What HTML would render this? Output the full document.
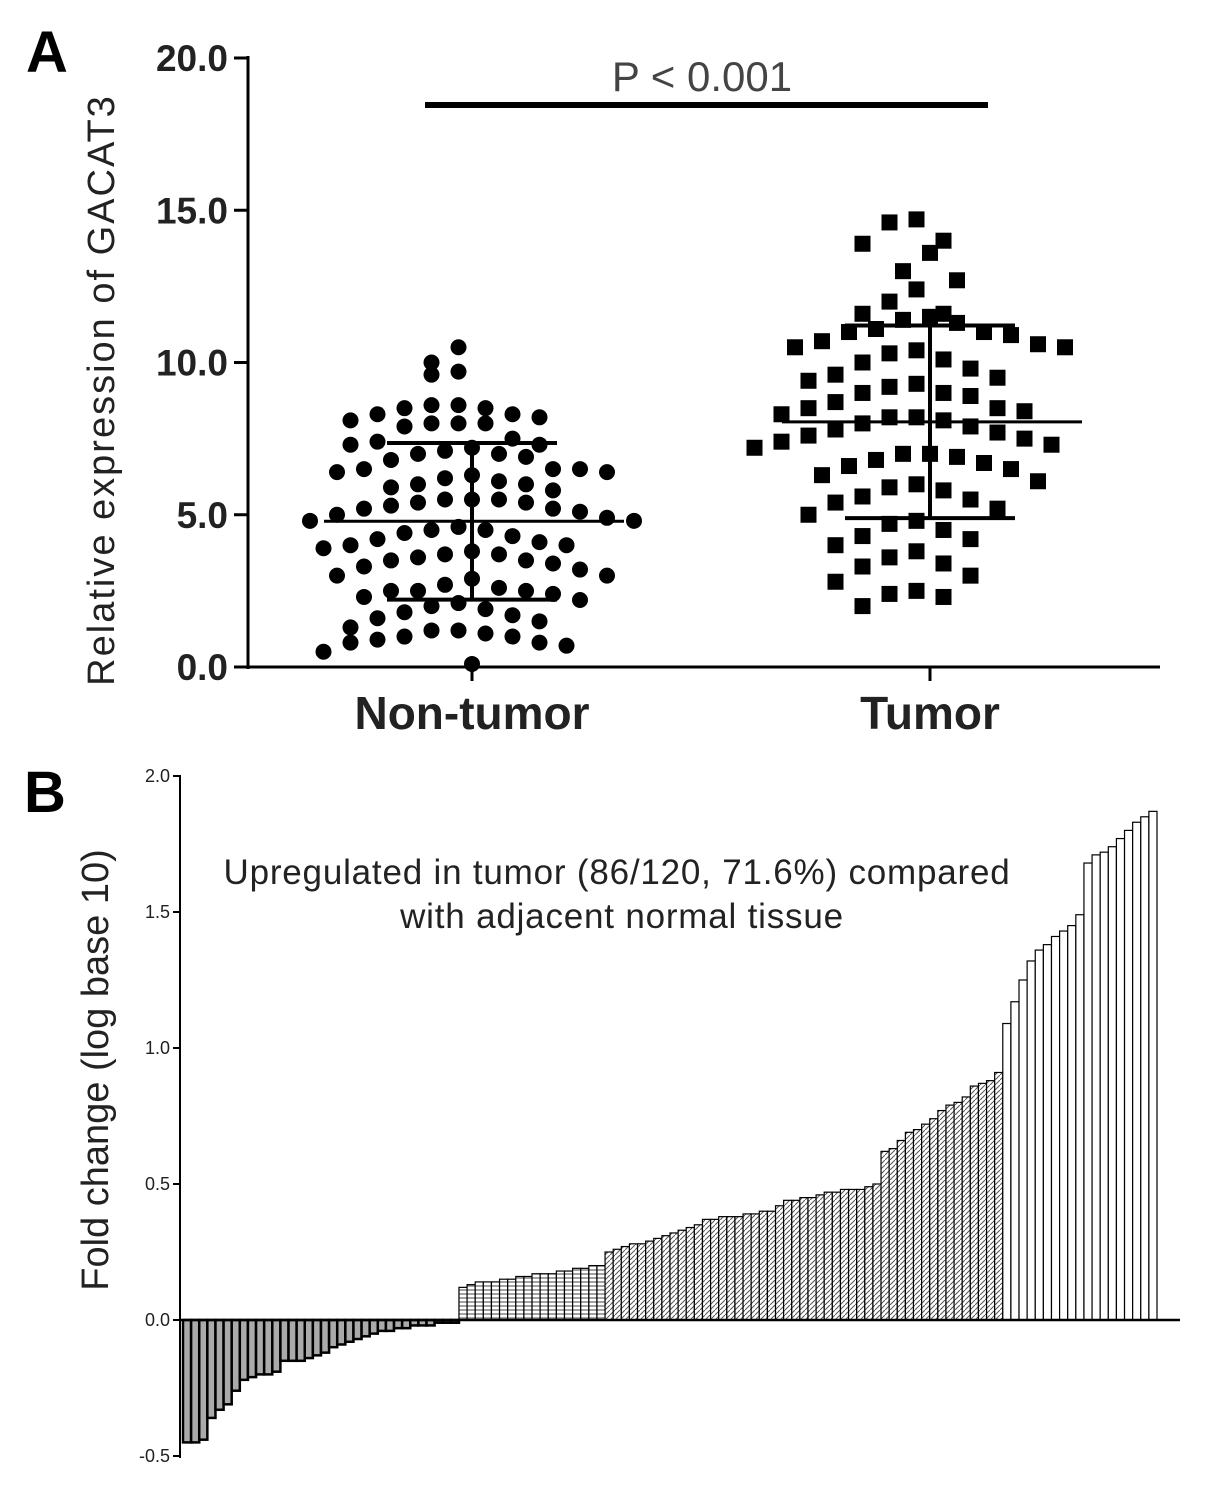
<!DOCTYPE html>
<html><head><meta charset="utf-8"><style>
html,body{margin:0;padding:0;background:#fff;}
svg{display:block;font-family:"Liberation Sans",Arial,sans-serif;}
</style></head><body>
<svg id="fig" width="1205" height="1493" viewBox="0 0 1205 1493">
<defs>
<pattern id="pNeg" width="8" height="8" patternUnits="userSpaceOnUse"><rect width="8" height="8" fill="#aaa"/></pattern>
<pattern id="pHoriz" width="4" height="4" patternUnits="userSpaceOnUse"><rect width="4" height="4" fill="#fff"/><line x1="0" y1="2" x2="4" y2="2" stroke="#444" stroke-width="1"/></pattern>
<pattern id="pDiag" width="5" height="5" patternUnits="userSpaceOnUse"><rect width="5" height="5" fill="#fff"/><line x1="0" y1="5" x2="5" y2="0" stroke="#555" stroke-width="1"/></pattern>
</defs>
<g id="panelA"></g>
<g id="panelB"></g>
</svg>
<script>
const nonTumorVals=[10.5,10.0,9.7,9.6,8.6,8.6,8.5,8.5,8.3,8.3,8.2,8.1,8.0,8.0,8.0,7.9,7.5,7.4,7.3,7.3,7.2,7.1,7.0,7.0,6.9,6.8,6.5,6.5,6.5,6.4,6.4,6.3,6.2,6.1,6.0,6.0,5.9,5.8,5.5,5.5,5.5,5.4,5.4,5.3,5.2,5.2,5.1,5.0,4.9,4.8,4.8,4.6,4.5,4.5,4.4,4.3,4.2,4.1,4.0,4.0,3.9,3.8,3.7,3.7,3.6,3.5,3.5,3.4,3.3,3.2,3.0,3.0,2.9,2.7,2.6,2.5,2.5,2.5,2.4,2.3,2.2,2.1,2.0,1.9,1.8,1.7,1.6,1.5,1.3,1.2,1.2,1.1,1.0,1.0,0.9,0.8,0.8,0.7,0.5,0.1];
const tumorVals=[14.7,14.6,14.0,13.9,13.6,13.0,12.7,12.4,12.0,11.6,11.6,11.5,11.4,11.3,11.1,11.0,11.0,10.9,10.7,10.6,10.5,10.5,10.4,10.3,10.1,10.0,9.8,9.6,9.5,9.4,9.3,9.2,9.0,9.0,8.9,8.7,8.5,8.5,8.4,8.3,8.2,8.2,8.1,8.0,7.9,7.8,7.7,7.6,7.5,7.4,7.3,7.2,7.0,7.0,6.9,6.8,6.7,6.6,6.5,6.3,6.1,6.0,5.9,5.8,5.6,5.5,5.4,5.2,5.0,4.8,4.7,4.5,4.3,4.2,4.0,3.8,3.6,3.4,3.3,3.0,2.8,2.5,2.4,2.3,2.0];
const aTicks=[0,5,10,15,20];
const aTickLabels=["0.0","5.0","10.0","15.0","20.0"];
const groups=["Non-tumor","Tumor"];

const negVals=[-0.45,-0.45,-0.44,-0.36,-0.33,-0.31,-0.26,-0.22,-0.21,-0.20,-0.20,-0.19,-0.15,-0.15,-0.15,-0.14,-0.13,-0.12,-0.10,-0.09,-0.08,-0.07,-0.06,-0.05,-0.04,-0.04,-0.03,-0.03,-0.02,-0.02,-0.02,-0.01,-0.01,-0.01];
const posVals=[0.12,0.13,0.14,0.14,0.14,0.15,0.15,0.16,0.16,0.17,0.17,0.17,0.18,0.18,0.19,0.19,0.20,0.20,
0.25,0.26,0.27,0.28,0.28,0.29,0.30,0.31,0.32,0.33,0.34,0.35,0.37,0.37,0.38,0.38,0.38,0.39,0.39,0.40,0.40,0.42,
0.44,0.44,0.45,0.45,0.46,0.47,0.47,0.48,0.48,0.48,0.49,0.50,
0.62,0.63,0.66,0.69,0.70,0.72,0.74,0.77,0.79,0.80,0.82,0.86,0.87,0.88,0.91,
1.09,1.17,1.25,1.32,1.36,1.38,1.41,1.43,1.45,1.49,
1.68,1.71,1.72,1.74,1.77,1.80,1.83,1.85,1.87];
const bTicks=[-0.5,0,0.5,1.0,1.5,2.0];
const bTickLabels=["-0.5","0.0","0.5","1.0","1.5","2.0"];

const NS="http://www.w3.org/2000/svg";
function mk(parent,tag,attrs,text){const e=document.createElementNS(NS,tag);for(const k in attrs)e.setAttribute(k,attrs[k]);if(text!==undefined)e.textContent=text;parent.appendChild(e);return e;}

// Panel A
const A=document.getElementById('panelA');
const yA=v=>667-v*30.45;
const xA=i=>[472,930][i];
mk(A,'line',{x1:248,y1:56,x2:248,y2:669,stroke:'#000','stroke-width':3});
mk(A,'line',{x1:246,y1:667,x2:1160,y2:667,stroke:'#000','stroke-width':3});
aTicks.forEach((t,i)=>{
  const tk=mk(A,'line',{x1:234,y1:yA(t),x2:248,y2:yA(t),stroke:'#000','stroke-width':3});
  
  const lb=mk(A,'text',{x:228,y:yA(t)+13,'text-anchor':'end','font-size':37,'font-weight':'bold',fill:'#222'},aTickLabels[i]);
  
});
groups.forEach((g,i)=>{
  mk(A,'line',{x1:xA(i),y1:667,x2:xA(i),y2:681,stroke:'#000','stroke-width':3});
  const lb=mk(A,'text',{x:xA(i),y:729,'text-anchor':'middle','font-size':46,'font-weight':'bold',fill:'#222'},g);
  
});
const yt=mk(A,'text',{x:0,y:0,transform:'translate(114,390) rotate(-90)','text-anchor':'middle','font-size':38,fill:'#222','letter-spacing':'2'},'Relative expression of GACAT3');

const la=mk(A,'text',{x:26,y:72,'font-size':58,'font-weight':'bold'},'A');

const sb=mk(A,'line',{x1:425,y1:105,x2:988,y2:105,stroke:'#000','stroke-width':6});

const pt=mk(A,'text',{x:702,y:91,'text-anchor':'middle','font-size':42,fill:'#444'},'P < 0.001');


function swarm(vals,gi,shape,binSize,sp){
  const bins={};
  vals.forEach(v=>{const b=Math.round(v/binSize);(bins[b]=bins[b]||[]).push(v);});
  Object.values(bins).forEach(arr=>{
    arr.forEach((v,k)=>{
      const off=(k%2===0?1:-1)*Math.ceil(k/2)*sp - (arr.length%2===0?sp/2:0);
      const cx=xA(gi)+off, cy=yA(v);
      let e;
      if(shape==='circle'){e=mk(A,'circle',{cx:cx,cy:cy,r:8,fill:'#000'});
        }
      else {e=mk(A,'rect',{x:cx-8,y:cy-8,width:16,height:16,fill:'#000'});
        }
      
    });
  });
  const m=vals.reduce((a,b)=>a+b,0)/vals.length;
  const sd=Math.sqrt(vals.reduce((a,b)=>a+(b-m)*(b-m),0)/(vals.length-1));
  const cx=xA(gi);
  const ml=mk(A,'line',{x1:cx-148,y1:yA(m),x2:cx+152,y2:yA(m),stroke:'#000','stroke-width':3});
  
  mk(A,'line',{x1:cx,y1:yA(m-sd),x2:cx,y2:yA(m+sd),stroke:'#000','stroke-width':4});
  mk(A,'line',{x1:cx-85,y1:yA(m+sd),x2:cx+85,y2:yA(m+sd),stroke:'#000','stroke-width':4});
  mk(A,'line',{x1:cx-85,y1:yA(m-sd),x2:cx+85,y2:yA(m-sd),stroke:'#000','stroke-width':4});
}
swarm(nonTumorVals,0,'circle',0.85,27);
swarm(tumorVals,1,'square',1.1,27);

// Panel B
const B=document.getElementById('panelB');
const yB=v=>1320-v*272;
const allVals=negVals.concat(posVals);
const bw=(1157-183)/allVals.length;
const xB=i=>183+i*bw;
allVals.forEach((v,i)=>{
  const y0=yB(0),y1=yB(v);
  let fill;
  if(v<0) fill='url(#pNeg)';
  else if(v<0.22) fill='url(#pHoriz)';
  else if(v<0.95) fill='url(#pDiag)';
  else fill='#fff';
  const r=mk(B,'rect',{x:xB(i),y:Math.min(y0,y1),width:bw,height:Math.abs(y1-y0),fill:fill,stroke:'#000','stroke-width':v<0?2.5:1.2});
  
});
mk(B,'line',{x1:180,y1:775,x2:180,y2:1458,stroke:'#000','stroke-width':2});
mk(B,'line',{x1:180,y1:1320,x2:1180,y2:1320,stroke:'#000','stroke-width':2.5});
bTicks.forEach((t,i)=>{
  mk(B,'line',{x1:173,y1:yB(t),x2:180,y2:yB(t),stroke:'#000','stroke-width':2});
  const lb=mk(B,'text',{x:170,y:yB(t)+6,'text-anchor':'end','font-size':18,fill:'#222'},bTickLabels[i]);
  
});
const yt2=mk(B,'text',{x:0,y:0,transform:'translate(108,1070) rotate(-90)','text-anchor':'middle','font-size':38,fill:'#222'},'Fold change (log base 10)');

const lbB=mk(B,'text',{x:24,y:812,'font-size':58,'font-weight':'bold'},'B');

const an1=mk(B,'text',{x:617,y:884,'text-anchor':'middle','font-size':35,fill:'#222','letter-spacing':'0.8'},'Upregulated in tumor (86/120, 71.6%) compared');

const an2=mk(B,'text',{x:622,y:928,'text-anchor':'middle','font-size':35,fill:'#222','letter-spacing':'0.8'},'with adjacent normal tissue');

</script>
</body></html>
